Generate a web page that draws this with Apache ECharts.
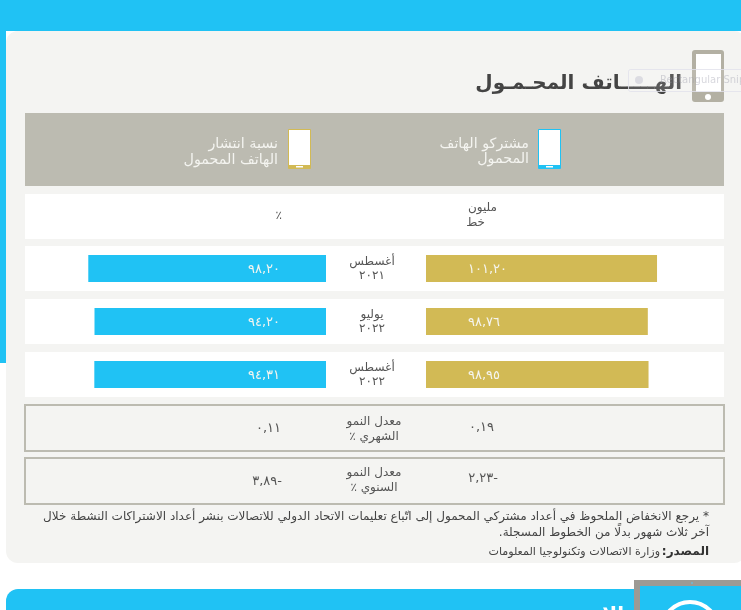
<!DOCTYPE html>
<html dir="rtl"><head><meta charset="utf-8">
<style>html,body{margin:0;padding:0;background:#fff;overflow:hidden}#c{width:741px;height:610px}</style>
<script src="https://cdn.jsdelivr.net/npm/echarts@6/dist/echarts.min.js"></script>
</head><body><div id="c"></div>
<script>
const periods = ['أغسطس\n٢٠٢١','يوليو\n٢٠٢٢','أغسطس\n٢٠٢٢'];
const subscribers = [101.20, 98.76, 98.95];
const penetration = [98.20, 94.20, 94.31];
const titleText = 'الهـــــاتف المحـمـول';
const headSubscribers = ['مشتركو الهاتف','المحمول'];
const headPenetration = ['نسبة انتشار','الهاتف المحمول'];
const unitSubscribers = ['مليون','خط'];
const unitPenetration = '٪';
const growthLabels = ['معدل النمو\nالشهري ٪','معدل النمو\nالسنوي ٪'];
const growthSubscribers = ['٠,١٩','-٢,٢٣'];
const growthPenetration = ['٠,١١','-٣,٨٩'];
const noteLines = ['* يرجع الانخفاض الملحوظ في أعداد مشتركي المحمول إلى اتّباع تعليمات الاتحاد الدولي للاتصالات بنشر أعداد الاشتراكات النشطة خلال','آخر ثلاث شهور بدلًا من الخطوط المسجلة.'];
const sourceLabel = 'المصدر:';
const sourceText = 'وزارة الاتصالات وتكنولوجيا المعلومات';
const nextTitle = 'الإنترنت';

const BLUE='#20c2f4',GOLD='#d2ba55',TAUPE='#bcbbb1',CARD='#f4f4f2',INK='#555555';
const FONT='"DejaVu Sans"';
const ar = v => v.toFixed(2).replace('.',',').replace(/\d/g,d=>'٠١٢٣٤٥٦٧٨٩'[d]);
const rect=(x,y,w,h,fill,r,extra)=>Object.assign({type:'rect',shape:{x,y,width:w,height:h,r:r||0},style:{fill},silent:true},extra||{});
const txt=(x,y,text,size,color,align,extra)=>({type:'text',x,y,silent:true,z:5,style:Object.assign({text,fill:color,font:size+'px '+FONT,align:align||'right',verticalAlign:'middle'},extra||{})});
function phone(x,color){return [
  rect(x,129,23,40,color,1),
  rect(x+1,130,21,35,'#ffffff'),
  rect(x+8,166,7,1.5,'#ffffff')
];}
const g=[
  rect(0,0,741,31,BLUE),
  rect(0,30,6,333,BLUE),
  rect(6,31,740,532,CARD,12),
  // big phone icon
  rect(692,50,32,52,'#b3b0a3',3),
  rect(696,54,25,38,'#ffffff'),
  {type:'circle',shape:{cx:708,cy:97,r:3},style:{fill:'#ffffff'},silent:true},
  txt(682,84,titleText,20,'#444444','right',{font:'bold 20px '+FONT}),
  // faint snip overlay, above the title and icon
  rect(628.5,69.5,130,22,'rgba(255,255,255,0.12)',2,{z:8,style:{fill:'rgba(255,255,255,0.12)',stroke:'rgba(225,225,235,0.8)',lineWidth:1}}),
  {type:'circle',z:8,shape:{cx:639,cy:80,r:4},style:{fill:'#dcdce2'},silent:true},
  {type:'text',z:8,x:660,y:80,silent:true,style:{text:'Rectangular Snip',fill:'rgba(150,150,165,0.38)',font:'10px '+FONT,align:'left',verticalAlign:'middle',direction:'ltr'}},
  // header
  rect(25,113,699,73,TAUPE),
  ...phone(538,BLUE),...phone(288,GOLD),
  txt(529,144,headSubscribers[0],14.3,'#f4f4f0'),txt(529,159,headSubscribers[1],14.3,'#f4f4f0'),
  txt(278,144,headPenetration[0],14.3,'#f4f4f0'),txt(278,160,headPenetration[1],14.3,'#f4f4f0'),
  // rows
  rect(25,194,699,45,'#ffffff'),rect(25,246,699,45,'#ffffff'),rect(25,299,699,45,'#ffffff'),rect(25,352,699,45,'#ffffff'),
  txt(497,208,unitSubscribers[0],12,INK),txt(485,223,unitSubscribers[1],12,INK),
  txt(282,216,unitPenetration,12,INK),
  // growth boxes
  ...[404,457].map(y=>({type:'rect',shape:{x:25,y:y+1,width:699,height:46},style:{fill:CARD,stroke:TAUPE,lineWidth:2},silent:true})),
  ...[429,480.5].map((y,i)=>txt(374,y,growthLabels[i],12,INK,'center',{lineHeight:15})),
  txt(494,428,growthSubscribers[0],13,INK),txt(498,479,growthSubscribers[1],13,INK),
  txt(281,429,growthPenetration[0],13,INK),txt(282,482,growthPenetration[1],13,INK),
  // notes
  txt(709,517,noteLines[0],12,'#444444'),txt(709,533,noteLines[1],12,'#444444'),
  txt(709,552,sourceLabel,12,'#333333','right',{font:'bold 12px '+FONT}),
  txt(660,552,sourceText,11.1,'#444444'),
  // next panel
  rect(6,589,640,40,BLUE,12),
  txt(624,616,nextTitle,20,'#ffffff','right',{font:'bold 20px '+FONT}),
  rect(634,580,107,30,'#9c9a94'),
  rect(640,586,101,24,BLUE),
  {type:'circle',shape:{cx:692,cy:583,r:1},style:{fill:'#6fb7d6'},silent:true},
  {type:'circle',shape:{cx:690,cy:630,r:28},style:{fill:'none',stroke:'#ffffff',lineWidth:4},silent:true}
].map(e=>Object.assign({z:e.z||1},e));

const labelStyle={show:true,color:'#f5f5ef',fontFamily:FONT,fontSize:13,offset:[0,1],formatter:p=>ar(p.value)};
const chart=echarts.init(document.getElementById('c'),null,{renderer:'canvas'});
chart.setOption({
  animation:false,
  graphic:{elements:g},
  grid:[
    {left:426,width:302,top:242,height:159},
    {left:25,width:301,top:242,height:159}
  ],
  xAxis:[
    {gridIndex:0,type:'value',min:40,max:120,show:false},
    {gridIndex:1,type:'log',logBase:10,min:20,max:150,inverse:true,show:false}
  ],
  yAxis:[
    {gridIndex:0,type:'category',data:periods,inverse:true,show:false},
    {gridIndex:1,type:'category',data:periods,inverse:true,position:'right',z:6,
      axisLine:{show:false},axisTick:{show:false},
      axisLabel:{color:INK,fontFamily:FONT,fontSize:12,lineHeight:14,align:'center',margin:46,padding:[2,0,0,0],hideOverlap:false}}
  ],
  series:[
    {type:'bar',name:'مشتركو الهاتف المحمول',xAxisIndex:0,yAxisIndex:0,data:subscribers,barWidth:27,itemStyle:{color:GOLD},
      label:Object.assign({position:'insideLeft',distance:42},labelStyle)},
    {type:'bar',name:'نسبة انتشار الهاتف المحمول',xAxisIndex:1,yAxisIndex:1,data:penetration,barWidth:27,itemStyle:{color:BLUE},
      label:Object.assign({position:'insideRight',distance:46},labelStyle)}
  ]
});
</script></body></html>
